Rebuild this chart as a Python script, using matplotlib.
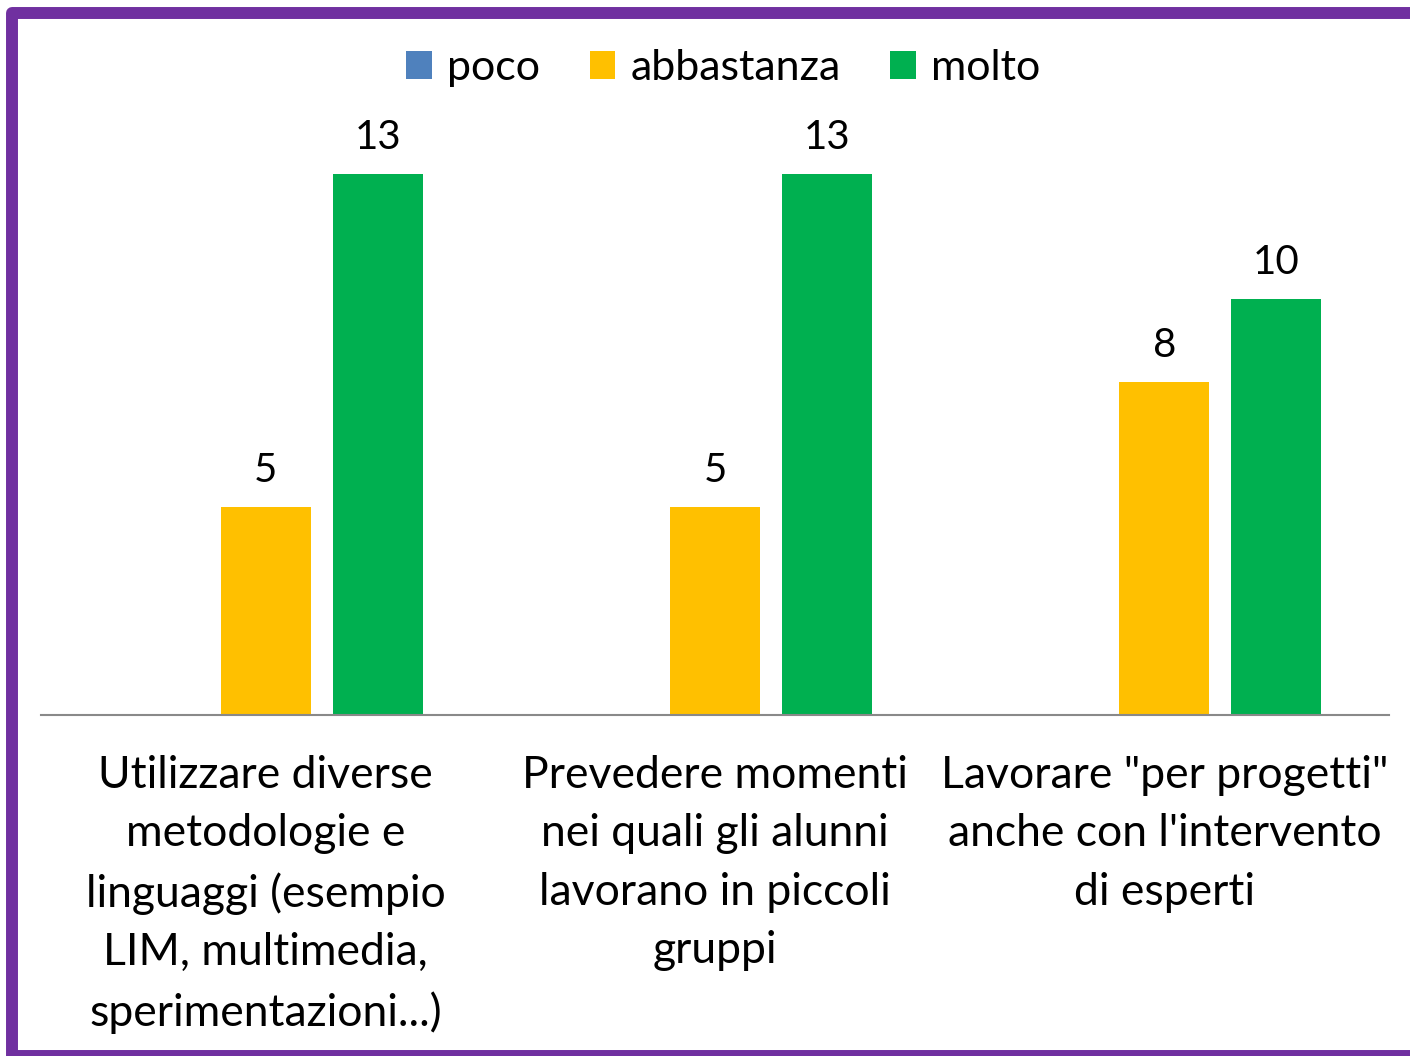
import matplotlib.pyplot as plt
import numpy as np
from matplotlib.patches import Rectangle

plt.rcParams['font.family'] = ['Lato', 'DejaVu Sans']

categories = [
    'Utilizzare diverse\nmetodologie e\nlinguaggi (esempio\nLIM, multimedia,\nsperimentazioni...)',
    'Prevedere momenti\nnei quali gli alunni\nlavorano in piccoli\ngruppi',
    'Lavorare "per progetti"\nanche con l\'intervento\ndi esperti',
]
series = ['poco', 'abbastanza', 'molto']
poco = [0, 0, 0]
abbastanza = [5, 5, 8]
molto = [13, 13, 10]
colors = ['#4F81BD', '#FFC000', '#00B050']

fig = plt.figure(figsize=(14.1, 10.56), dpi=100)
ax = fig.add_axes([0.0291, 0.3229, 0.9560, 0.5515])

x = np.arange(len(categories))
width = 0.2
step = 0.249
for i, (name, vals, c) in enumerate(zip(series, [poco, abbastanza, molto], colors)):
    bars = ax.bar(x + (i - 1) * step, vals, width, color=c, label=name)
    for b, v in zip(bars, vals):
        if v:
            ax.annotate(str(v), (b.get_x() + b.get_width() / 2, v),
                        xytext=(0, 13), textcoords='offset points',
                        ha='center', va='bottom', fontsize=29)

ax.set_xlim(-0.5, 2.5)
ax.set_ylim(0, 14)
ax.set_yticks([])
for s in ['top', 'right', 'left']:
    ax.spines[s].set_visible(False)
ax.spines['bottom'].set_color('#898989')
ax.spines['bottom'].set_linewidth(1.5)
ax.set_xticks(x)
ax.set_xticklabels(categories, fontsize=32, linespacing=1.52, va='top')
ax.tick_params(axis='x', length=0, pad=29)

ax.legend(loc='upper center', bbox_to_anchor=(0.513, 0.99), bbox_transform=fig.transFigure,
          ncol=3, frameon=False, fontsize=31, handlelength=0.6, handleheight=0.6,
          handletextpad=0.35, columnspacing=1.15)

fig.patches.append(Rectangle((12 / 1410, 0), 1.1, 1 - 12.5 / 1056,
                             transform=fig.transFigure, fill=False,
                             edgecolor='#7030A0', linewidth=8.6, joinstyle='round'))

fig.savefig('out.png', dpi=100)
